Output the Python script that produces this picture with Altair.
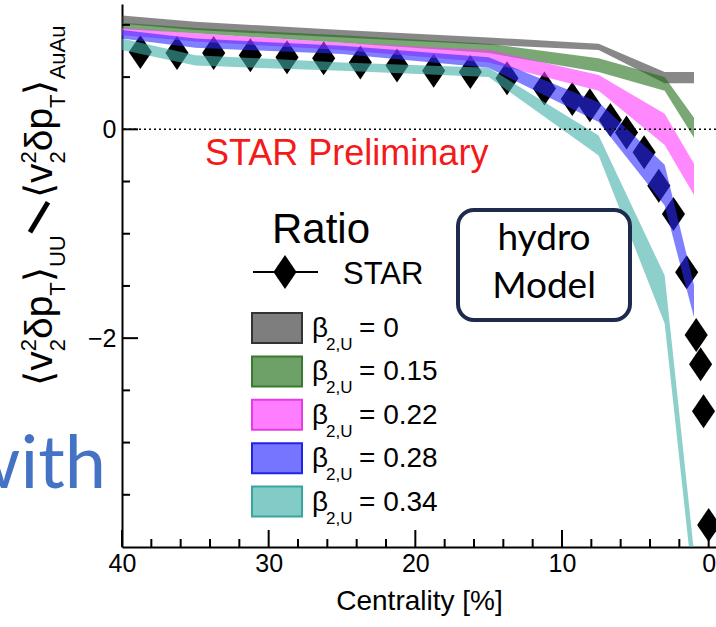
import altair as alt
import pandas as pd

# ---------------------------------------------------------------------------
# STAR measurement: ratio <v2^2 dpT>_UU / <v2^2 dpT>_AuAu vs centrality
star_cent = [38.75, 36.25, 33.75, 31.25, 28.75, 26.25, 23.75, 21.25, 18.75, 16.25,
             13.75, 11.2, 9.3, 8.1, 6.7, 5.6, 4.4, 3.4, 2.4, 1.5, 0.85, 0.55, 0.35, 0.0]
star_ratio = [0.74, 0.73, 0.73, 0.71, 0.69, 0.68, 0.64, 0.61, 0.56, 0.55,
              0.49, 0.39, 0.29, 0.23, 0.09, -0.03, -0.22, -0.54, -0.81, -1.37,
              -1.97, -2.25, -2.70, -3.79]

# Hydro model bands (upper / lower edge) for each beta_2,U
model_cent = [40, 35, 25, 15, 7.5, 3, 1]
beta_labels = ["0", "0.15", "0.22", "0.28", "0.34"]
hi_b000 = [1.09, 1.03, 0.95, 0.88, 0.82, 0.55, 0.55]
lo_b000 = [1.01, 0.95, 0.88, 0.81, 0.76, 0.44, 0.44]
hi_b015 = [1.02, 0.97, 0.90, 0.82, 0.68, 0.50, 0.11]
lo_b015 = [0.96, 0.92, 0.83, 0.73, 0.55, 0.37, -0.08]
hi_b022 = [0.97, 0.92, 0.83, 0.76, 0.52, 0.15, -0.33]
lo_b022 = [0.90, 0.84, 0.76, 0.64, 0.37, -0.15, -0.63]
hi_b028 = [0.95, 0.87, 0.80, 0.69, 0.26, -0.34, -1.49]
lo_b028 = [0.87, 0.78, 0.72, 0.59, 0.07, -0.73, -1.80]
hi_b034 = [0.87, 0.71, 0.64, 0.59, -0.06, -1.40, -4.05]
lo_b034 = [0.76, 0.61, 0.56, 0.50, -0.25, -1.86, -4.45]
band_hi = [hi_b000, hi_b015, hi_b022, hi_b028, hi_b034]
band_lo = [lo_b000, lo_b015, lo_b022, lo_b028, lo_b034]

# axis ticks
x_major = [40, 30, 20, 10, 0]
x_minor = [38, 36, 34, 32, 28, 26, 24, 22, 18, 16, 14, 12, 8, 6, 4, 2]
y_major = [0, -2]
y_minor = [1.0, 0.5, -0.5, -1.0, -1.5, -2.5, -3.0, -3.5]

# ---------------------------------------------------------------------------
FONT = "Liberation Sans"
W, H = 594, 543
band_fill = ["#393939", "#216e17", "#ff39ff", "#2b2bff", "#3fafa8"]
band_edge = ["#333333", "#3b7a2e", "#e53de5", "#2323e8", "#3aa59e"]
DIAMOND = "M0,-1L0.68,0L0,1L-0.68,0Z"

xs = alt.Scale(domain=[-0.5, 40], reverse=True, nice=False, zero=False)
ys = alt.Scale(domain=[-4, 1.2], nice=False, zero=False)

x_axis = alt.Axis(values=x_major, format="d", ticks=False, grid=False,
                  domainColor="black", domainWidth=2, labelFont=FONT,
                  labelFontSize=25, labelColor="black", labelPadding=4,
                  labelFlush=False, titleFont=FONT, titleFontSize=28,
                  titleFontWeight="normal", titleColor="black", titlePadding=11)
y_axis = alt.Axis(values=y_major, format="d", ticks=False, grid=False,
                  domainColor="black", domainWidth=2, labelFont=FONT,
                  labelFontSize=25, labelColor="black", labelPadding=6,
                  title=None)


def X(field):
    return alt.X(f"{field}:Q", scale=xs, axis=x_axis, title="Centrality [%]")


def Y(field):
    return alt.Y(f"{field}:Q", scale=ys, axis=y_axis, title=None)


one = pd.DataFrame({"k": [0]})

star_df = pd.DataFrame({"c": star_cent, "v": star_ratio})

layers = []

# STAR points (drawn first; model bands are translucent on top)
layers.append(
    alt.Chart(star_df).mark_point(shape=DIAMOND, filled=True, size=1156,
                                  color="black", opacity=1, strokeWidth=0)
    .encode(x=X("c"), y=Y("v"))
)

# model bands
for lab, hi, lo, col in zip(beta_labels, band_hi, band_lo, band_fill):
    df = pd.DataFrame({"c": model_cent, "hi": hi, "lo": lo})
    layers.append(
        alt.Chart(df).mark_area(color=col, opacity=0.6, clip=True)
        .encode(x=X("c"), y=Y("hi"), y2="lo")
    )

# dotted zero line
layers.append(
    alt.Chart(pd.DataFrame({"v": [0]}))
    .mark_rule(color="black", strokeDash=[2, 3], strokeWidth=1.6)
    .encode(y=Y("v"))
)

# inward ticks
layers.append(
    alt.Chart(pd.DataFrame({"v": y_minor})).mark_rule(color="black", strokeWidth=2)
    .encode(y=Y("v"), x=alt.value(0), x2=alt.value(8))
)
layers.append(
    alt.Chart(pd.DataFrame({"v": y_major})).mark_rule(color="black", strokeWidth=2)
    .encode(y=Y("v"), x=alt.value(0), x2=alt.value(16))
)
layers.append(
    alt.Chart(pd.DataFrame({"c": x_minor})).mark_rule(color="black", strokeWidth=2)
    .encode(x=X("c"), y=alt.value(H), y2=alt.value(H - 8))
)
layers.append(
    alt.Chart(pd.DataFrame({"c": x_major})).mark_rule(color="black", strokeWidth=2)
    .encode(x=X("c"), y=alt.value(H), y2=alt.value(H - 17))
)


def text(t, x, y, size, color="black", font=FONT, align="left", angle=0,
         weight="normal", baseline="alphabetic"):
    kw = dict(text=t, font=font, fontSize=size, color=color, align=align,
              baseline=baseline, fontWeight=weight)
    if angle:
        kw["angle"] = angle
    return alt.Chart(one).mark_text(**kw).encode(x=alt.value(x), y=alt.value(y))


# rotated y-axis title, assembled piece by piece (reads bottom to top)
MAIN, SUB = 39, 22
base_x = 52 - 122
sub_x = base_x + 13
sup_x = base_x - 16
y_cur = 386 - 4


def group(sub_text, sub_em, y0):
    out = []
    y = y0
    out.append(text("⟨", base_x, y, MAIN, angle=270)); y -= 0.39 * MAIN
    out.append(text("v", base_x, y, MAIN, angle=270)); y -= 0.5 * MAIN
    out.append(text("2", sup_x, y, SUB, angle=270))
    out.append(text("2", sub_x, y, SUB, angle=270)); y -= 0.556 * SUB
    out.append(text("δp", base_x, y, MAIN, angle=270)); y -= 1.112 * MAIN
    out.append(text("T", sub_x, y, SUB, angle=270)); y -= 0.611 * SUB
    out.append(text("⟩", base_x, y, MAIN, angle=270)); y -= 0.39 * MAIN
    out.append(text(sub_text, sub_x, y, SUB, angle=270)); y -= sub_em * SUB
    return out, y


g1, y_cur = group("UU", 1.444, y_cur)
layers += g1
# bold separator slash between numerator and denominator
y_cur -= 3
layers.append(
    alt.Chart(one).mark_rule(color="black", strokeWidth=5)
    .encode(x=alt.value(base_x - 22), y=alt.value(y_cur),
            x2=alt.value(base_x - 4), y2=alt.value(y_cur - 30))
)
y_cur -= 34
g2, y_cur = group("AuAu", 2.446, y_cur)
layers += g2

# legend
layers.append(text("Ratio", 150, 239, 42))
layers.append(
    alt.Chart(one).mark_rule(color="black", strokeWidth=2)
    .encode(x=alt.value(131), x2=alt.value(196), y=alt.value(268))
)
layers.append(
    alt.Chart(one).mark_point(shape=DIAMOND, filled=True, size=1156,
                              color="black", opacity=1, strokeWidth=0)
    .encode(x=alt.value(163), y=alt.value(268))
)
layers.append(text("STAR", 221, 280, 31))

ROW0, STEP = 309, 43.4
for i, (lab, fill, edge) in enumerate(zip(beta_labels, band_fill, band_edge)):
    top = ROW0 + i * STEP
    layers.append(
        alt.Chart(one).mark_rect(fill=fill, fillOpacity=0.65, stroke=edge,
                                 strokeWidth=2)
        .encode(x=alt.value(130), x2=alt.value(180), y=alt.value(top),
                y2=alt.value(top + 30))
    )
    layers.append(text("β", 190, top + 24, 28))
    layers.append(text("2,U", 204, top + 37, 17))
    layers.append(text("= " + lab, 237, top + 24, 28))

# annotations
layers.append(text("STAR Preliminary", 83, 161, 36, color="#f41a1a"))
layers.append(
    alt.Chart(one).mark_rect(fill="white", stroke="#1f2b4d", strokeWidth=4,
                             cornerRadius=16)
    .encode(x=alt.value(336), x2=alt.value(508), y=alt.value(206),
            y2=alt.value(316))
)
layers.append(text("hydro", 422, 246, 37, font="Lato", align="center"))
layers.append(text("Model", 422, 294, 37, font="Lato", align="center"))
layers.append(text("with", 106 - 122, 488 - 4, 74, color="#4472c4", font="Lato",
                   align="right"))

chart = alt.layer(*layers).properties(
    width=W, height=H,
    padding={"left": 122, "top": 4, "right": 0, "bottom": 80},
    autosize=alt.AutoSizeParams(type="none"),
    background="white",
).configure_view(stroke=None)

chart.save("out.html", embed_options={"renderer": "svg", "actions": False})
